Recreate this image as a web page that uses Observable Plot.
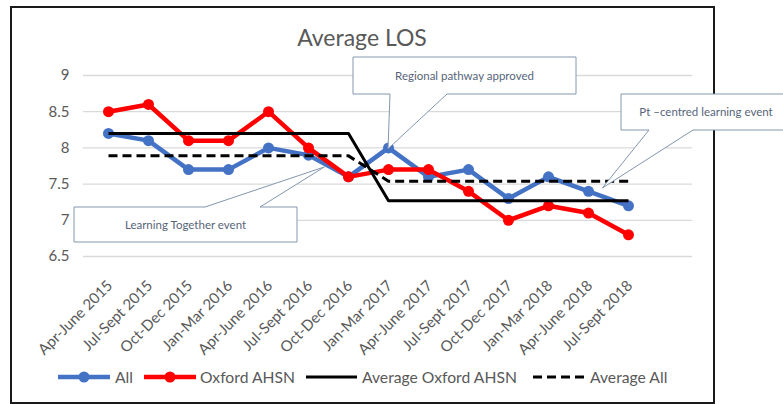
<!DOCTYPE html>
<html><head><meta charset="utf-8">
<script src="https://cdn.jsdelivr.net/npm/d3@7"></script>
<script src="https://cdn.jsdelivr.net/npm/@observablehq/plot@0.6"></script>
<style>body{margin:0;background:#fff} svg{display:block}</style>
</head><body><div id="chart"></div>
<script>
const quarters = ["Apr-June 2015","Jul-Sept 2015","Oct-Dec 2015","Jan-Mar 2016","Apr-June 2016","Jul-Sept 2016","Oct-Dec 2016","Jan-Mar 2017","Apr-June 2017","Jul-Sept 2017","Oct-Dec 2017","Jan-Mar 2018","Apr-June 2018","Jul-Sept 2018"];
const allValues = [8.2,8.1,7.7,7.7,8.0,7.9,7.6,8.0,7.6,7.7,7.3,7.6,7.4,7.2];
const oxfordValues = [8.5,8.6,8.1,8.1,8.5,8.0,7.6,7.7,7.7,7.4,7.0,7.2,7.1,6.8];
const avgOxfordValues = [8.2,8.2,8.2,8.2,8.2,8.2,8.2,7.27,7.27,7.27,7.27,7.27,7.27,7.27];
const avgAllValues = [7.89,7.89,7.89,7.89,7.89,7.89,7.89,7.54,7.54,7.54,7.54,7.54,7.54,7.54];
const yTicks = [6.5,7,7.5,8,8.5,9];
const seriesNames = ["All","Oxford AHSN","Average Oxford AHSN","Average All"];
const titleText = "Average LOS";
const annotationTexts = ["Regional pathway approved","Pt \u2013centred learning event","Learning Together event"];
const annotationAt = ["Jan-Mar 2017","Apr-June 2018","Jul-Sept 2016"];
const annotationValues = [7.98,7.44,7.73];

const W = 783, H = 404;
const rows = quarters.map((q,i)=>({q, all:allValues[i], ox:oxfordValues[i], aox:avgOxfordValues[i], aall:avgAllValues[i]}));
const FONT = "Lato, 'Open Sans', sans-serif";
const GREY = "#595959";

const chart = Plot.plot({
  width: W, height: H,
  marginLeft: 83, marginRight: 91, marginTop: 75, marginBottom: 148,
  style: {fontFamily: FONT, background: "white", overflow: "visible"},
  x: {type: "point", domain: [...quarters, ""], padding: 0.5, axis: null},
  y: {domain: [6.5, 9]},
  marks: [
    Plot.ruleY(yTicks, {stroke: "#d9d9d9", strokeWidth: 1.3}),
    Plot.axisY({ticks: yTicks, tickSize: 0, tickPadding: 14, fontSize: 15, fill: GREY, label: null, tickFormat: d => String(d)}),
    Plot.text(quarters, {x: d => d, y: () => 6.5, dx: 5, dy: 30, rotate: -45, textAnchor: "end", lineAnchor: "bottom", fontSize: 15, fill: GREY}),
    Plot.line(rows, {x: "q", y: "all", stroke: "#4472C4", strokeWidth: 4.5}),
    Plot.dot(rows, {x: "q", y: "all", r: 5.5, fill: "#4472C4", stroke: "none"}),
    Plot.line(rows, {x: "q", y: "ox", stroke: "#FF0000", strokeWidth: 4.5}),
    Plot.dot(rows, {x: "q", y: "ox", r: 5.5, fill: "#FF0000", stroke: "none"}),
    Plot.line(rows, {x: "q", y: "aox", stroke: "#000", strokeWidth: 3, strokeLinecap: "butt"}),
    Plot.line(rows, {x: "q", y: "aall", stroke: "#000", strokeWidth: 3, strokeDasharray: "9,5", strokeLinecap: "butt"})
  ]
});
document.getElementById("chart").appendChild(chart);

const svg = d3.select(chart);
const xs = chart.scale("x"), ys = chart.scale("y");
const step = xs.apply(quarters[1]) - xs.apply(quarters[0]);

// outer chart border
svg.append("rect").attr("x", 11).attr("y", 7).attr("width", 703).attr("height", 396)
  .attr("fill", "none").attr("stroke", "#1a1a1a").attr("stroke-width", 2);

// title
svg.append("text").attr("x", 362).attr("y", 46).attr("text-anchor", "middle")
  .attr("font-family", FONT).attr("font-size", 23).attr("fill", GREY).text(titleText);

// legend
const legendItems = [
  {x1: 58, x2: 110, tx: 115, color: "#4472C4", w: 4.5, dash: null, dot: true},
  {x1: 144, x2: 196, tx: 200, color: "#FF0000", w: 4.5, dash: null, dot: true},
  {x1: 306, x2: 357, tx: 362, color: "#000", w: 3, dash: null, dot: false},
  {x1: 533, x2: 585, tx: 590, color: "#000", w: 3, dash: "9,5", dot: false}
];
const ly = 377;
legendItems.forEach((it, i) => {
  svg.append("line").attr("x1", it.x1).attr("x2", it.x2).attr("y1", ly).attr("y2", ly)
    .attr("stroke", it.color).attr("stroke-width", it.w).attr("stroke-dasharray", it.dash);
  if (it.dot) svg.append("circle").attr("cx", (it.x1 + it.x2) / 2).attr("cy", ly).attr("r", 5.5).attr("fill", it.color);
  svg.append("text").attr("x", it.tx).attr("y", ly).attr("dy", "0.36em").attr("text-anchor", "start")
    .attr("font-family", FONT).attr("font-size", 15.7).attr("fill", GREY).text(seriesNames[i]);
});

// callouts
const boxes = [
  {x: 353, y: 57, w: 223, h: 37, b1: 390, b2: 447, side: "bottom", tipDx: 0},
  {x: 621, y: 94, w: 170, h: 36, b1: 649, b2: 693, side: "bottom", tipDx: 0.36},
  {x: 74, y: 207, w: 223, h: 35, b1: 205, b2: 260, side: "top", tipDx: 0.41}
];
boxes.forEach((b, i) => {
  const tx = xs.apply(annotationAt[i]) + b.tipDx * step;
  const ty = ys.apply(annotationValues[i]);
  let d;
  if (b.side === "bottom") {
    d = `M${b.x},${b.y}H${b.x + b.w}V${b.y + b.h}H${b.b2}L${tx},${ty}L${b.b1},${b.y + b.h}H${b.x}Z`;
  } else {
    d = `M${b.x},${b.y}H${b.b1}L${tx},${ty}L${b.b2},${b.y}H${b.x + b.w}V${b.y + b.h}H${b.x}Z`;
  }
  svg.append("path").attr("d", d).attr("fill", "white").attr("stroke", "#8496B0").attr("stroke-width", 1);
  svg.append("text").attr("x", b.x + b.w / 2).attr("y", b.y + b.h / 2).attr("dy", "0.36em")
    .attr("text-anchor", "middle").attr("font-family", FONT).attr("font-size", 11.5)
    .attr("fill", "#56657a").text(annotationTexts[i]);
});
</script>
</body></html>
